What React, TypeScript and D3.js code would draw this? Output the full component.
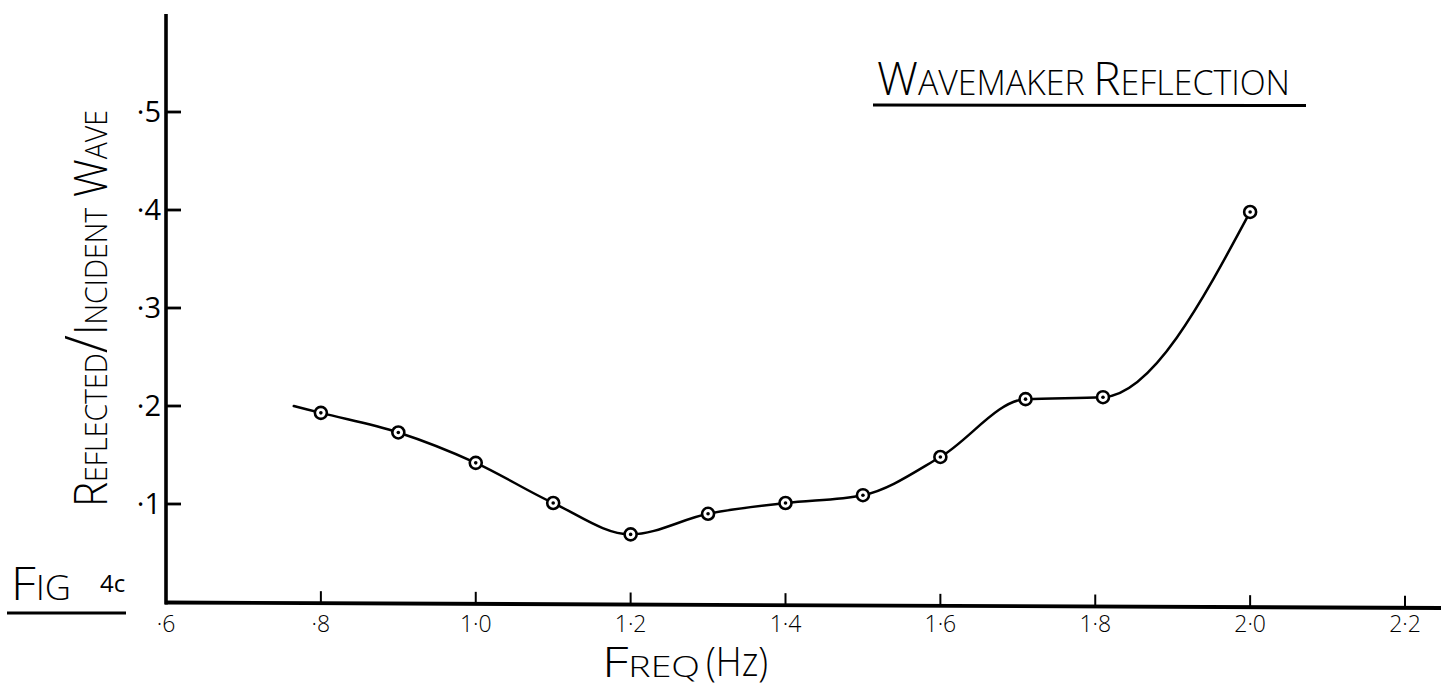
import React from 'react';
import * as d3 from 'd3';

// Data
const freqTicks = [0.6, 0.8, 1.0, 1.2, 1.4, 1.6, 1.8, 2.0, 2.2];
const freqTickLabels = ['·6', '·8', '1·0', '1·2', '1·4', '1·6', '1·8', '2·0', '2·2'];
const ratioTicks = [0.1, 0.2, 0.3, 0.4, 0.5];
const ratioTickLabels = ['·1', '·2', '·3', '·4', '·5'];

const freq = [0.8, 0.9, 1.0, 1.1, 1.2, 1.3, 1.4, 1.5, 1.6, 1.71, 1.81, 2.0];
const ratio = [0.193, 0.173, 0.142, 0.101, 0.069, 0.09, 0.101, 0.109, 0.148, 0.207, 0.209, 0.398];
// where the hand-drawn curve begins (left of the first point)
const leadFreq = 0.765;
const leadRatio = 0.2;

const title = 'WAVEMAKER REFLECTION';
const xTitleMain = 'FREQ';
const xTitleUnit = '(Hz)';
const yTitle = 'REFLECTED/INCIDENT WAVE';
const figLabel = 'FIG';
const figNum = '4c';

export default function App() {
  const W = 1441;
  const H = 688;
  const x = d3.scaleLinear().domain([0.6, 2.2]).range([166, 1405]);
  const y = d3.scaleLinear().domain([0, 0.5]).range([602, 112]);
  // baseline of the hand-drawn x axis drifts slightly downward to the right
  const axisY = d3.scaleLinear().domain([166, W]).range([602.5, 608]);

  const pts: [number, number][] = freq.map((f, i) => [f, ratio[i]]);
  const line = d3
    .line<[number, number]>()
    .x((d) => x(d[0]))
    .y((d) => y(d[1]))
    .curve(d3.curveMonotoneX);
  const pathD = line([[leadFreq, leadRatio], ...pts]) || '';

  const font = "'Open Sans', 'DejaVu Sans', sans-serif";
  const x0 = x(0.6);

  return (
    <svg
      width={W}
      height={H}
      style={{ position: 'absolute', left: 0, top: 0, display: 'block', background: '#fff' }}
      fontFamily={font}
    >
      <rect width={W} height={H} fill="#fff" />

      {/* title */}
      <text x={877} y={95} textLength={413} lengthAdjust="spacingAndGlyphs" fontWeight={300} fill="#000">
        <tspan fontSize={46}>{title[0]}</tspan>
        <tspan fontSize={34}>{title.slice(1, 10)}</tspan>
        <tspan fontSize={46}>{title[10]}</tspan>
        <tspan fontSize={34}>{title.slice(11)}</tspan>
      </text>
      <line x1={873} x2={1306} y1={105} y2={105.5} stroke="#000" strokeWidth={3} />

      {/* y axis */}
      <line x1={x0} x2={x0} y1={y(0.6)} y2={axisY(x0) + 2} stroke="#000" strokeWidth={3.6} />
      {ratioTicks.map((t, i) => (
        <g key={t}>
          <line x1={x0} x2={x0 + 15} y1={y(t)} y2={y(t)} stroke="#000" strokeWidth={2.8} />
          <text x={x0 - 5} y={y(t) + 10} textAnchor="end" fontSize={29} fontWeight={400} fill="#000">
            {ratioTickLabels[i]}
          </text>
        </g>
      ))}

      {/* x axis */}
      <line x1={x0 - 1} x2={W} y1={axisY(x0)} y2={axisY(W)} stroke="#000" strokeWidth={3.8} />
      {freqTicks.map((t, i) => (
        <g key={t}>
          {i > 0 && (
            <line x1={x(t)} x2={x(t)} y1={axisY(x(t))} y2={axisY(x(t)) - 12} stroke="#000" strokeWidth={2} />
          )}
          <text x={x(t)} y={632} textAnchor="middle" fontSize={23} fontWeight={300} fill="#000">
            {freqTickLabels[i]}
          </text>
        </g>
      ))}

      {/* axis titles */}
      <text x={602} y={677} textLength={98} lengthAdjust="spacingAndGlyphs" fontWeight={300} fill="#000">
        <tspan fontSize={42}>{xTitleMain[0]}</tspan>
        <tspan fontSize={30}>{xTitleMain.slice(1)}</tspan>
      </text>
      <text x={706} y={676} textLength={62} lengthAdjust="spacingAndGlyphs" fontSize={40} fontWeight={300} fill="#000">
        {xTitleUnit}
      </text>
      <text
        transform="translate(107,507) rotate(-90)"
        textLength={397}
        lengthAdjust="spacingAndGlyphs"
        fontWeight={300}
        fill="#000"
      >
        <tspan fontSize={46}>{yTitle[0]}</tspan>
        <tspan fontSize={31}>{yTitle.slice(1, 9)}</tspan>
        <tspan fontSize={58}>{yTitle[9]}</tspan>
        <tspan fontSize={46}>{yTitle[10]}</tspan>
        <tspan fontSize={31}>{yTitle.slice(11, 18)}</tspan>
        <tspan fontSize={46}>{yTitle.slice(18, 20)}</tspan>
        <tspan fontSize={31}>{yTitle.slice(20)}</tspan>
      </text>

      {/* figure label */}
      <text x={11} y={600} textLength={60} lengthAdjust="spacingAndGlyphs" fontWeight={300} fill="#000">
        <tspan fontSize={46}>{figLabel[0]}</tspan>
        <tspan fontSize={34}>{figLabel.slice(1)}</tspan>
      </text>
      <text x={100} y={592} fontSize={24} fontWeight={400} fill="#000">
        {figNum}
      </text>
      <line x1={7} x2={126} y1={613} y2={613} stroke="#000" strokeWidth={3} />

      {/* curve */}
      <path d={pathD} fill="none" stroke="#000" strokeWidth={2.5} strokeLinecap="round" />

      {/* markers */}
      {pts.map((d, i) => (
        <g key={i}>
          <circle cx={x(d[0])} cy={y(d[1])} r={6} fill="#fff" stroke="#000" strokeWidth={2.6} />
          <circle cx={x(d[0])} cy={y(d[1])} r={1.8} fill="#000" />
        </g>
      ))}
    </svg>
  );
}
